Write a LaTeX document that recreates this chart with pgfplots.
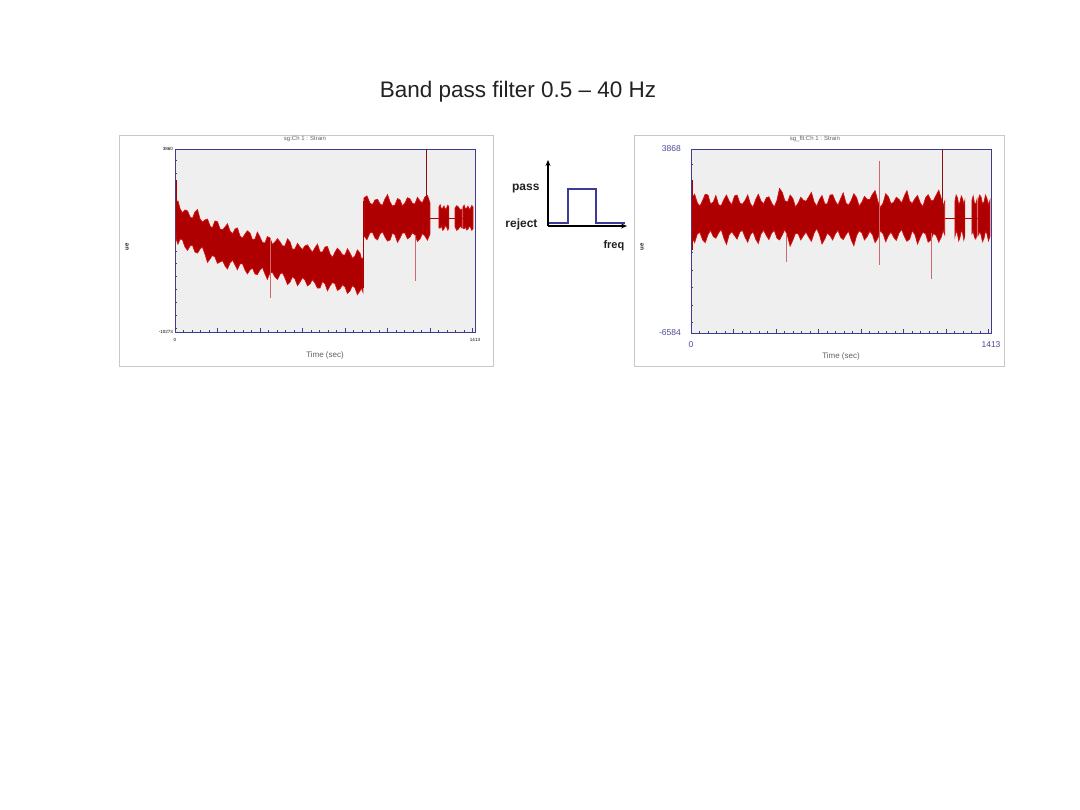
\documentclass[border=0pt]{standalone}
\usepackage{fontspec}
\setmainfont{Liberation Sans}
\usepackage{pgfplots}
\pgfplotsset{compat=1.18}
\usetikzlibrary{arrows.meta}
\definecolor{plotbg}{HTML}{EFEFEF}
\definecolor{axblue}{HTML}{3D3D8F}
\definecolor{sig}{HTML}{AE0000}
\definecolor{sigedge}{HTML}{D41010}
\definecolor{spk}{HTML}{D06A6A}
\definecolor{spkdark}{HTML}{8A1010}
\definecolor{framegray}{HTML}{C8C8C8}
\definecolor{lblblue}{HTML}{4A4A99}
\definecolor{filt}{HTML}{3C3C96}
\definecolor{labelgray}{HTML}{606060}
\definecolor{titlegray}{HTML}{222222}
\pgfplotsset{
  sigpanel/.style={
    scale only axis, xmin=0, xmax=1413, no markers,
    axis background/.style={fill=plotbg},
    axis line style={draw=axblue, line width=0.9pt},
    xtick pos=left, ytick pos=left, tick align=inside,
    major tick length=3.5pt, minor tick length=2pt,
    every tick/.style={axblue, line width=0.5pt},
    xtick={0,200,...,1400}, xticklabels={0,,,,,,,},
    extra x ticks={1413}, extra x tick labels={1413},
    minor x tick num=4, scaled ticks=false,
    /pgf/number format/assume math mode=true,
    band/.style={fill=sig, draw=sigedge, line width=0.7pt, line join=miter},
    spk/.style={draw=spk, line width=0.7pt},
    spkd/.style={draw=spkdark, line width=0.7pt},
    thin/.style={draw=sig, line width=0.6pt},
  }
}
\begin{document}
\begin{tikzpicture}
\path[use as bounding box, fill=white] (0pt,0pt) rectangle (1080pt,-810pt);
\node[anchor=base, text=titlegray, font=\fontsize{22.5}{27}\selectfont] at (518pt,-98pt) {Band pass filter 0.5 – 40 Hz};
\draw[framegray, line width=1pt, fill=white] (119pt,-136pt) rectangle (493pt,-367pt);
\draw[framegray, line width=1pt, fill=white] (634pt,-136pt) rectangle (1004pt,-367pt);

% ---------------- left panel: raw signal ----------------
\begin{axis}[sigpanel, at={(175pt,-332pt)}, anchor=south west, width=300pt, height=183pt,
  ymin=-10273, ymax=3860,
  ytick={-10273,3860}, yticklabels={-10273,3860},
  minor ytick={-10000,-9000,...,3000},
  xticklabel style={font=\fontsize{4.5}{5}\selectfont, inner sep=0pt, yshift=-6pt},
  yticklabel style={font=\fontsize{4.5}{5}\selectfont, inner sep=0pt, xshift=-2pt},
  title={sg:Ch 1 : Strain},
  title style={at={(axis description cs:0.433,1)}, anchor=south, inner sep=1pt, font=\fontsize{6}{7}\selectfont, text=labelgray},
  xlabel={Time (sec)},
  xlabel style={at={(axis description cs:0.5,-0.126)}, anchor=center, font=\fontsize{8}{9}\selectfont, text=labelgray},
  ylabel={ue},
  ylabel style={at={(axis description cs:-0.16,0.464)}, anchor=center, font=\bfseries\fontsize{6}{7}\selectfont, text=titlegray},
]
\addplot[thin] coordinates {(1201,-1467) (1404,-1467)};
\addplot[band] coordinates {
 (5,-232) (14,-152) (24,-772) (35,-1060) (47,-849) (59,-920) (71,-1390) (82,-1497)
 (94,-1004) (106,-824) (118,-1544) (129,-1782) (141,-1621) (153,-1552) (165,-2084)
 (176,-2241) (188,-1698) (200,-1757) (212,-2316) (224,-2389) (236,-2162) (247,-1916)
 (259,-2470) (271,-2693) (283,-2316) (294,-2236) (306,-2856) (318,-3029) (330,-2702)
 (341,-2463) (353,-2625) (365,-3156) (377,-3088) (388,-2561) (400,-2934) (412,-3365)
 (424,-3397) (435,-2904) (447,-3011) (459,-3515) (471,-3320) (483,-3070) (495,-3320)
 (506,-3624) (518,-3628) (530,-3074) (542,-3320) (553,-3890) (565,-3860) (577,-3433)
 (589,-3706) (600,-3917) (612,-3628) (624,-3544) (636,-3860) (647,-4121) (659,-3783)
 (671,-3487) (683,-4092) (695,-4099) (707,-3706) (718,-3676) (730,-4246) (742,-4519)
 (754,-4092) (765,-3803) (777,-4014) (789,-4318) (801,-4323) (812,-3846) (824,-4169)
 (836,-4584) (848,-4400) (859,-3934) (871,-4169) (878,-4612) (885,-4555)
 (885,-7180) (878,-6891) (871,-7102) (859,-7387) (848,-6871) (836,-6687) (824,-7102)
 (812,-7298) (801,-6794) (789,-6621) (777,-6948) (765,-7055) (754,-6562) (742,-6439)
 (730,-6716) (718,-7089) (707,-6562) (695,-6367) (683,-6871) (671,-6878) (659,-6485)
 (647,-6224) (636,-6562) (624,-6708) (612,-6253) (600,-6081) (589,-6408) (577,-6692)
 (565,-6176) (553,-5992) (542,-6408) (530,-6604) (518,-6099) (506,-5695) (495,-5790)
 (483,-6206) (471,-6022) (459,-5668) (447,-5713) (435,-6202) (424,-5790) (412,-5286)
 (400,-5481) (388,-5836) (377,-5790) (365,-5336) (353,-5481) (341,-5781) (330,-5481)
 (318,-5000) (306,-5018) (294,-5457) (283,-5095) (271,-4718) (259,-4941) (247,-5407)
 (236,-5172) (224,-4768) (212,-4864) (200,-4971) (188,-4478) (176,-4355) (165,-4632)
 (153,-4889) (141,-4246) (129,-3703) (118,-3860) (106,-4176) (94,-4092) (82,-3560)
 (71,-3628) (59,-3967) (47,-3706) (35,-3147) (24,-3088) (14,-3488) (5,-3088)
} -- cycle;
\addplot[band] coordinates {
 (890,77) (904,234) (918,-309) (930,-443) (942,-77) (954,-32) (966,-386) (977,-493)
 (989,0) (1001,334) (1013,-232) (1024,-548) (1036,-463) (1048,30) (1060,-77) (1071,-543)
 (1083,-309) (1095,95) (1107,0) (1118,-343) (1130,-386) (1142,130) (1154,-154)
 (1165,-300) (1177,154) (1189,272) (1201,-309)
 (1201,-2702) (1189,-3179) (1177,-2856) (1165,-2672) (1154,-3088) (1142,-3284)
 (1130,-2779) (1118,-2607) (1107,-2934) (1095,-3080) (1083,-2625) (1071,-2618)
 (1060,-3011) (1048,-3345) (1036,-2779) (1024,-2622) (1013,-3165) (1001,-3250)
 (989,-2934) (977,-2518) (966,-2702) (954,-3157) (942,-3011) (930,-2568) (918,-2625)
 (904,-3141) (890,-2856)
} -- cycle;
\addplot[band] coordinates {(1243,-620) (1249,-450) (1255,-780) (1261,-700) (1267,-540) (1273,-820) (1279,-700) (1285,-480) (1290,-620)
 (1290,-2240) (1285,-2400) (1279,-2160) (1273,-2050) (1267,-2320) (1261,-2420) (1255,-2080) (1249,-2250) (1243,-2240)} -- cycle;
\addplot[band] coordinates {(1319,-700) (1327,-520) (1335,-620) (1343,-850) (1352,-780)
 (1352,-2240) (1343,-2100) (1335,-2320) (1327,-2420) (1319,-2160)} -- cycle;
\addplot[band] coordinates {(1356,-620) (1362,-480) (1368,-780) (1374,-700) (1380,-560) (1386,-820) (1392,-700) (1398,-500) (1404,-640)
 (1404,-2280) (1398,-2420) (1392,-2200) (1386,-2100) (1380,-2320) (1374,-2400) (1368,-2160) (1362,-2300) (1356,-2240)} -- cycle;
\addplot[thin] coordinates {(4,1467) (4,-2500)};
\addplot[thin] coordinates {(887,-6900) (887,-150)};
\addplot[spk] coordinates {(447,-3000) (447,-7643)};
\addplot[spk] coordinates {(1130,-2800) (1130,-6330)};
\addplot[spkd] coordinates {(1182,-300) (1182,3860)};
\end{axis}

% ---------------- right panel: filtered signal ----------------
\begin{axis}[sigpanel, at={(691pt,-333pt)}, anchor=south west, width=300pt, height=184pt,
  ymin=-6584, ymax=3868,
  ytick={-6584,3868}, yticklabels={-6584,3868},
  minor ytick={-6000,-5000,...,3000},
  xticklabel style={font=\fontsize{8.5}{9}\selectfont, text=lblblue, inner sep=0pt, yshift=-8pt},
  yticklabel style={font=\fontsize{8.5}{9}\selectfont, text=lblblue, inner sep=0pt, xshift=-10pt},
  title={sg\_flt:Ch 1 : Strain},
  title style={at={(axis description cs:0.413,1)}, anchor=south, inner sep=1pt, font=\fontsize{6}{7}\selectfont, text=labelgray},
  xlabel={Time (sec)},
  xlabel style={at={(axis description cs:0.5,-0.13)}, anchor=center, font=\fontsize{8}{9}\selectfont, text=labelgray},
  ylabel={ue},
  ylabel style={at={(axis description cs:-0.163,0.467)}, anchor=center, font=\bfseries\fontsize{6}{7}\selectfont, text=titlegray},
]
\addplot[thin] coordinates {(1196,-50) (1408,-50)};
\addplot[band] coordinates {
 (5,1100) (17,1300) (30,800) (42,625) (55,950) (67,1300) (80,1250) (92,750) (105,850)
 (117,1225) (130,700) (142,650) (155,1000) (167,1250) (180,900) (192,700) (205,1200)
 (217,1250) (230,800) (242,725) (255,950) (267,1250) (280,750) (292,575) (305,1000)
 (317,1300) (330,900) (342,750) (355,1100) (367,1150) (380,800) (392,575) (405,950)
 (417,1625) (430,1400) (442,925) (455,850) (467,1250) (480,1050) (492,575) (505,800)
 (517,1125) (530,950) (542,900) (555,1150) (567,1400) (580,850) (592,625) (605,1000)
 (617,1225) (630,750) (642,750) (655,1250) (667,1275) (680,900) (692,675) (705,1050)
 (717,1375) (730,800) (742,675) (755,950) (767,1325) (780,1100) (792,625) (805,850)
 (817,1175) (830,1000) (842,1000) (855,1300) (867,1500) (880,900) (892,550) (905,800)
 (917,1325) (930,1150) (942,750) (955,850) (967,1125) (980,1000) (992,800) (1005,1200)
 (1017,1500) (1030,900) (1042,775) (1055,1050) (1067,1225) (1080,800) (1092,600)
 (1105,1100) (1117,1275) (1130,950) (1142,950) (1155,1250) (1167,1525) (1180,1000)
 (1187,650) (1195,900)
 (1195,-1000) (1187,-750) (1180,-1100) (1167,-1425) (1155,-1050) (1142,-925)
 (1130,-1300) (1117,-1425) (1105,-950) (1092,-850) (1080,-1150) (1067,-1525)
 (1055,-1000) (1042,-775) (1030,-1250) (1017,-1375) (1005,-1100) (992,-700) (980,-900)
 (967,-1325) (955,-1150) (942,-850) (930,-1050) (917,-1400) (905,-950) (892,-775)
 (880,-1200) (867,-1450) (855,-1000) (842,-800) (830,-1100) (817,-1300) (805,-900)
 (792,-775) (780,-1050) (767,-1625) (755,-1300) (742,-800) (730,-1000) (717,-1275)
 (705,-1150) (692,-750) (680,-950) (667,-1300) (655,-1050) (642,-900) (630,-1250)
 (617,-1525) (605,-1000) (592,-650) (580,-900) (567,-1375) (555,-1150) (542,-850)
 (530,-1050) (517,-1300) (505,-950) (492,-925) (480,-1300) (467,-1650) (455,-1100)
 (442,-700) (430,-1000) (417,-1300) (405,-1200) (392,-750) (380,-900) (367,-1275)
 (355,-1050) (342,-750) (330,-950) (317,-1500) (305,-1250) (292,-825) (280,-1000)
 (267,-1425) (255,-1150) (242,-750) (230,-850) (217,-1250) (205,-1050) (192,-825)
 (180,-1000) (167,-1550) (155,-1200) (142,-700) (130,-900) (117,-1200) (105,-1100)
 (92,-750) (80,-1000) (67,-1450) (55,-1300) (42,-875) (30,-950) (17,-1450) (5,-1150)
} -- cycle;
\addplot[band] coordinates {(1243,900) (1249,1250) (1255,1100) (1261,700) (1267,850) (1273,1200) (1279,1050) (1285,750) (1290,950)
 (1290,-1050) (1285,-1300) (1279,-900) (1273,-750) (1267,-1150) (1261,-1350) (1255,-950) (1249,-800) (1243,-1100)} -- cycle;
\addplot[band] coordinates {(1323,950) (1329,1200) (1335,800) (1341,750) (1347,1000)
 (1347,-1000) (1341,-1250) (1335,-1150) (1329,-800) (1323,-950)} -- cycle;
\addplot[band] coordinates {(1352,900) (1359,1250) (1366,1150) (1373,750) (1380,850) (1387,1250) (1394,1050) (1401,700) (1408,950)
 (1408,-1100) (1401,-1350) (1394,-950) (1387,-800) (1380,-1200) (1373,-1400) (1366,-1000) (1359,-850) (1352,-1050)} -- cycle;
\addplot[thin] coordinates {(4,2107) (4,-1880)};
\addplot[spk] coordinates {(447,-900) (447,-2533)};
\addplot[spk] coordinates {(886,3203) (886,-2720)};
\addplot[spk] coordinates {(1130,-900) (1130,-3516)};
\addplot[spkd] coordinates {(1182,0) (1182,3868)};
\end{axis}

% ---------------- filter sketch ----------------
\begin{axis}[at={(548pt,-226pt)}, anchor=south west, scale only axis, width=79pt, height=66pt,
  xmin=0, xmax=79, ymin=0, ymax=66, axis lines=left, ticks=none, clip=false,
  axis line style={line width=1.5pt, -{Stealth[length=6pt,width=5pt]}}]
\addplot[filt, line width=2pt, sharp plot, no markers] coordinates {(1,3) (20,3) (20,36.5) (48,36.5) (48,3) (77,3)};
\end{axis}
\node[anchor=base east, font=\bfseries\fontsize{12}{14}\selectfont, text=titlegray] at (543pt,-191pt) {pass};
\node[anchor=base east, font=\bfseries\fontsize{12}{14}\selectfont, text=titlegray] at (541pt,-228pt) {reject};
\node[anchor=base west, font=\bfseries\fontsize{11}{13}\selectfont, text=titlegray] at (600pt,-249pt) {freq};
\end{tikzpicture}
\end{document}
